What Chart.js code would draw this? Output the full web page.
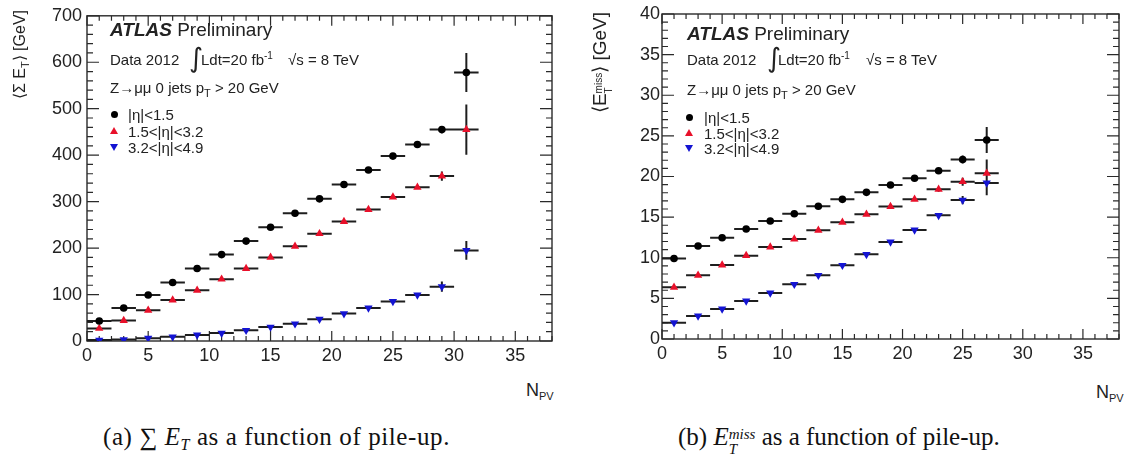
<!DOCTYPE html>
<html>
<head>
<meta charset="utf-8">
<script src="https://cdn.jsdelivr.net/npm/chart.js@4.4.1/dist/chart.umd.min.js"></script>
<style>
  html, body { margin: 0; padding: 0; background: #fff; }
  body { position: relative; width: 1125px; height: 461px; overflow: hidden;
         font-family: "Liberation Sans", Arial, Helvetica, sans-serif; color: #222; }
  canvas { position: absolute; top: 0; }
  .t { position: absolute; white-space: nowrap; line-height: 1; }
  .atlas { font-size: 19px; }
  .atlas b { font-style: italic; font-weight: bold; }
  .s15 { font-size: 15px; }
  .integral { font-family: "DejaVu Sans", sans-serif; font-size: 27px; }
  .s15 sup { font-size: 10px; vertical-align: 6px; line-height: 0; }
  .s15 sub, .npv sub { font-size: 11px; vertical-align: -4px; line-height: 0; }
  .npv { font-size: 18px; }
  .mk { position: absolute; width: 0; height: 0; }
  .dot { width: 7px; height: 7px; border-radius: 50%; background: #000; }
  .up { border-left: 4px solid transparent; border-right: 4px solid transparent; border-bottom: 7px solid #e8102a; }
  .down { border-left: 4px solid transparent; border-right: 4px solid transparent; border-top: 7px solid #1414d2; }
  .ytitle { position: absolute; width: 150px; text-align: right; line-height: 22px;
            transform-origin: 0 0; transform: rotate(-90deg); white-space: nowrap; }
  .ytitle sub { font-size: 11px; vertical-align: -4px; line-height: 0; }
  .stack { display: inline-block; vertical-align: -6px; line-height: 1; font-size: 10px; text-align: left; }
  .stack span { display: block; }
  .cap { position: absolute; top: 424px; font-family: "Liberation Serif", "Times New Roman", serif;
         font-size: 25px; line-height: 1; white-space: nowrap; color: #111; }
  .cap i { font-style: italic; }
  .cap sub { font-size: 16px; vertical-align: -5px; line-height: 0; }
  .cap .stack { font-size: 15px; vertical-align: -9px; font-style: italic; }
</style>
</head>
<body>
<canvas id="sumEt" width="562" height="380" style="left:0"></canvas>
<canvas id="met" width="563" height="380" style="left:562px"></canvas>

<!-- panel (a) labels -->
<div class="ytitle" style="left:9px; top:160px; font-size:16px">⟨Σ E<sub>T</sub>⟩ [GeV]</div>
<div class="t atlas" style="left:110px; top:20px"><b>ATLAS</b> Preliminary</div>
<div class="t s15" style="left:110px; top:52px">Data 2012</div>
<div class="t integral" style="left:189px; top:44px">∫</div>
<div class="t s15" style="left:201px; top:52px">Ldt=20 fb<sup>-1</sup></div>
<div class="t s15" style="left:288px; top:52px">√s = 8 TeV</div>
<div class="t s15" style="left:110px; top:80px">Z→μμ 0 jets p<sub>T</sub> &gt; 20 GeV</div>
<div class="mk dot" style="left:111px; top:111px"></div>
<div class="mk up" style="left:110px; top:127px"></div>
<div class="mk down" style="left:110px; top:144px"></div>
<div class="t s15" style="left:128px; top:107px">|η|&lt;1.5</div>
<div class="t s15" style="left:128px; top:124px">1.5&lt;|η|&lt;3.2</div>
<div class="t s15" style="left:128px; top:140px">3.2&lt;|η|&lt;4.9</div>
<div class="t npv" style="left:526px; top:381px">N<sub>PV</sub></div>

<!-- panel (b) labels -->
<div class="ytitle" style="left:589px; top:162px; font-size:19px">⟨E<span class="stack"><span>miss</span><span>T</span></span>⟩ [GeV]</div>
<div class="t atlas" style="left:687px; top:24px"><b>ATLAS</b> Preliminary</div>
<div class="t s15" style="left:687px; top:52px">Data 2012</div>
<div class="t integral" style="left:767px; top:44px">∫</div>
<div class="t s15" style="left:778px; top:52px">Ldt=20 fb<sup>-1</sup></div>
<div class="t s15" style="left:866px; top:52px">√s = 8 TeV</div>
<div class="t s15" style="left:687px; top:82px">Z→μμ 0 jets p<sub>T</sub> &gt; 20 GeV</div>
<div class="mk dot" style="left:686px; top:114px"></div>
<div class="mk up" style="left:685px; top:129px"></div>
<div class="mk down" style="left:685px; top:145px"></div>
<div class="t s15" style="left:704px; top:110px">|η|&lt;1.5</div>
<div class="t s15" style="left:704px; top:126px">1.5&lt;|η|&lt;3.2</div>
<div class="t s15" style="left:704px; top:141px">3.2&lt;|η|&lt;4.9</div>
<div class="t npv" style="left:1096px; top:383px">N<sub>PV</sub></div>

<!-- captions -->
<div class="cap" style="left:103px; letter-spacing:0.6px">(a) ∑ <i>E<sub>T</sub></i> as a function of pile-up.</div>
<div class="cap" style="left:678px">(b) <i>E</i><span class="stack"><span>miss</span><span>T</span></span> as a function of pile-up.</div>

<script>
// Bin centres (number of primary vertices, bins of width 2)
const npvSumEt = [1, 3, 5, 7, 9, 11, 13, 15, 17, 19, 21, 23, 25, 27, 29, 31];
const npvMet   = [1, 3, 5, 7, 9, 11, 13, 15, 17, 19, 21, 23, 25, 27];
const binHalfWidth = 1;

// <Sum E_T> [GeV] per |eta| region
const sumEtCentral    = [43, 71, 99, 126, 156, 186, 215, 245, 275, 306, 337, 368, 398, 423, 455, 578];
const sumEtCentralErr = [1, 1, 1, 1, 1, 1, 1, 1, 1, 2, 2, 2, 3, 4, 8, 42];
const sumEtEndcap     = [27, 44, 66, 88, 109, 133, 156, 180, 204, 231, 257, 283, 310, 331, 355, 455];
const sumEtEndcapErr  = [1, 1, 1, 1, 1, 1, 1, 1, 1, 2, 2, 2, 3, 4, 10, 54];
const sumEtForward    = [2, 3, 6, 9, 13, 17, 23, 30, 37, 47, 59, 71, 85, 99, 117, 195];
const sumEtForwardErr = [1, 1, 1, 1, 1, 1, 1, 1, 1, 1, 2, 2, 3, 4, 11, 20];

// <E_T^miss> [GeV] per |eta| region
const metCentral    = [9.9, 11.45, 12.47, 13.54, 14.52, 15.42, 16.33, 17.19, 18.05, 18.95, 19.78, 20.7, 22.1, 24.5];
const metCentralErr = [0.1, 0.1, 0.1, 0.1, 0.1, 0.1, 0.1, 0.1, 0.1, 0.15, 0.2, 0.3, 0.5, 1.6];
const metEndcap     = [6.36, 7.84, 9.1, 10.26, 11.32, 12.3, 13.37, 14.36, 15.34, 16.3, 17.19, 18.42, 19.36, 20.4];
const metEndcapErr  = [0.1, 0.1, 0.1, 0.1, 0.1, 0.1, 0.1, 0.1, 0.1, 0.15, 0.2, 0.3, 0.5, 1.7];
const metForward    = [2.0, 2.83, 3.69, 4.68, 5.66, 6.73, 7.84, 9.07, 10.42, 11.94, 13.42, 15.22, 17.1, 19.2];
const metForwardErr = [0.1, 0.1, 0.1, 0.1, 0.1, 0.1, 0.1, 0.1, 0.1, 0.15, 0.2, 0.3, 0.5, 1.5];

const regionLabels = ['|η|<1.5', '1.5<|η|<3.2', '3.2<|η|<4.9'];
const colCentral = '#000000', colEndcap = '#e8102a', colForward = '#1414d2';
const axisFont = { family: '"Liberation Sans", Arial, sans-serif', size: 18 };

const toPoints = (xs, ys) => xs.map((x, i) => ({ x, y: ys[i] }));

// Frame with inward major/minor ticks on all four sides
const frameTicks = {
  id: 'frameTicks',
  beforeDatasetsDraw(chart, args, o) {
    const { ctx, chartArea: a, scales: { x, y } } = chart;
    ctx.save();
    ctx.strokeStyle = '#2a2a2a';
    ctx.lineWidth = 1.4;
    ctx.strokeRect(a.left, a.top, a.right - a.left, a.bottom - a.top);
    ctx.lineWidth = 1.2;
    ctx.beginPath();
    const nx = Math.round((x.max - x.min) / o.xMinor);
    for (let i = 0; i <= nx; i++) {
      const v = x.min + i * o.xMinor;
      const major = Math.abs(v / o.xMajor - Math.round(v / o.xMajor)) < 1e-6;
      const len = major ? 10 : 5;
      const px = x.getPixelForValue(v);
      ctx.moveTo(px, a.bottom); ctx.lineTo(px, a.bottom - len);
      ctx.moveTo(px, a.top); ctx.lineTo(px, a.top + len);
    }
    const ny = Math.round((y.max - y.min) / o.yMinor);
    for (let i = 0; i <= ny; i++) {
      const v = y.min + i * o.yMinor;
      const major = Math.abs(v / o.yMajor - Math.round(v / o.yMajor)) < 1e-6;
      const len = major ? 12 : 6;
      const py = y.getPixelForValue(v);
      ctx.moveTo(a.left, py); ctx.lineTo(a.left + len, py);
      ctx.moveTo(a.right, py); ctx.lineTo(a.right - len, py);
    }
    ctx.stroke();
    ctx.restore();
  }
};

// Bin-width and statistical error bars, drawn under the markers
const errorBars = {
  id: 'errorBars',
  beforeDatasetsDraw(chart) {
    const { ctx, scales: { x, y } } = chart;
    ctx.save();
    ctx.strokeStyle = '#1e1e1e';
    ctx.lineWidth = 2;
    ctx.beginPath();
    chart.data.datasets.forEach(ds => {
      ds.data.forEach((p, i) => {
        const py = y.getPixelForValue(p.y);
        const px = x.getPixelForValue(p.x);
        ctx.moveTo(x.getPixelForValue(p.x - binHalfWidth), py);
        ctx.lineTo(x.getPixelForValue(p.x + binHalfWidth), py);
        const e = ds.yErr[i];
        ctx.moveTo(px, y.getPixelForValue(p.y - e));
        ctx.lineTo(px, y.getPixelForValue(p.y + e));
      });
    });
    ctx.stroke();
    ctx.restore();
  }
};

function makeDatasets(xs, c, ce, e, ee, f, fe) {
  return [
    { label: regionLabels[0], data: toPoints(xs, c), yErr: ce, pointStyle: 'circle', pointRadius: 3.8,
      backgroundColor: colCentral, borderWidth: 0 },
    { label: regionLabels[1], data: toPoints(xs, e), yErr: ee, pointStyle: 'triangle', pointRadius: 4.8,
      backgroundColor: colEndcap, borderWidth: 0 },
    { label: regionLabels[2], data: toPoints(xs, f), yErr: fe, pointStyle: 'triangle', rotation: 180, pointRadius: 4.8,
      backgroundColor: colForward, borderWidth: 0 }
  ];
}

function makeChart(id, datasets, yMax, yMajor, yMinor, yWidth, xHeight, padRight, labelPad) {
  return new Chart(document.getElementById(id), {
    type: 'scatter',
    data: { datasets },
    options: {
      responsive: false,
      animation: false,
      events: [],
      layout: { padding: { left: 0, right: padRight, top: 14, bottom: 0 } },
      plugins: {
        legend: { display: false },
        tooltip: { enabled: false },
        frameTicks: { xMajor: 5, xMinor: 1, yMajor, yMinor }
      },
      scales: {
        x: {
          type: 'linear', min: 0, max: 38,
          grid: { display: false, drawTicks: false }, border: { display: false },
          ticks: { stepSize: 5, font: axisFont, color: '#222', padding: 4, maxRotation: 0, autoSkip: false },
          afterBuildTicks: s => { s.ticks = s.ticks.filter(t => t.value % 5 === 0); },
          afterFit: s => { s.height = xHeight; }
        },
        y: {
          type: 'linear', min: 0, max: yMax,
          grid: { display: false, drawTicks: false }, border: { display: false },
          ticks: { stepSize: yMajor, font: axisFont, color: '#222', padding: labelPad, autoSkip: false },
          afterFit: s => { s.width = yWidth; }
        }
      }
    },
    plugins: [frameTicks, errorBars]
  });
}

makeChart('sumEt',
  makeDatasets(npvSumEt, sumEtCentral, sumEtCentralErr, sumEtEndcap, sumEtEndcapErr, sumEtForward, sumEtForwardErr),
  700, 100, 20, 87, 39, 10, 5);

makeChart('met',
  makeDatasets(npvMet, metCentral, metCentralErr, metEndcap, metEndcapErr, metForward, metForwardErr),
  40, 5, 1, 100, 41, 6, 2);
</script>
</body>
</html>
